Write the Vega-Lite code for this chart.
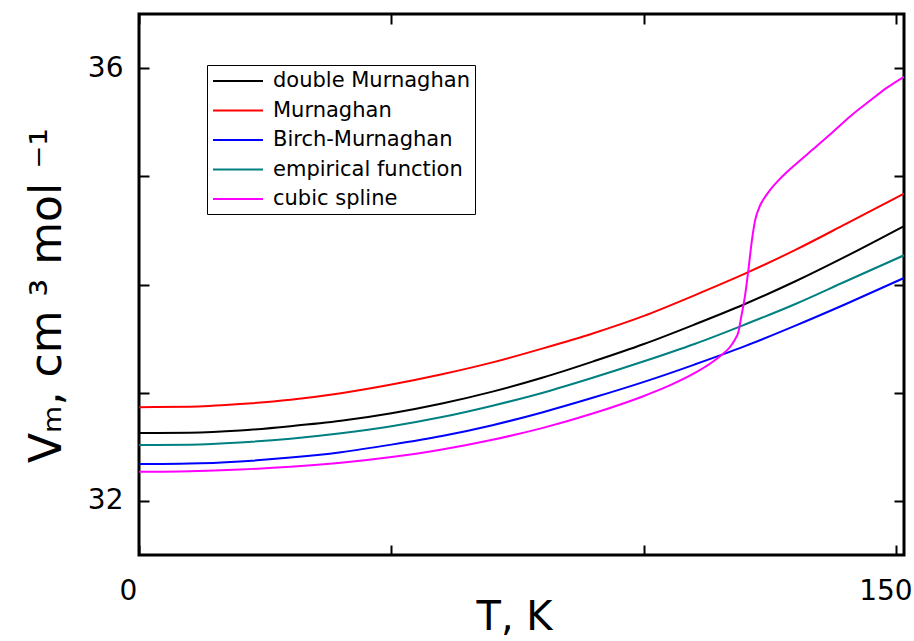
{
  "$schema": "https://vega.github.io/schema/vega-lite/v6.json",
  "width": 765,
  "height": 541,
  "autosize": {"type": "none"},
  "padding": {"left": 139, "top": 14, "right": 10, "bottom": 86},
  "background": "white",
  "config": {"view": {"stroke": "black", "strokeWidth": 3}, "font": "DejaVu Sans"},
  "data": {"values": [
    {"model": "double Murnaghan", "T": 0, "V": 32.627},
    {"model": "double Murnaghan", "T": 10, "V": 32.63},
    {"model": "double Murnaghan", "T": 20, "V": 32.65},
    {"model": "double Murnaghan", "T": 30, "V": 32.69},
    {"model": "double Murnaghan", "T": 40, "V": 32.74},
    {"model": "double Murnaghan", "T": 50, "V": 32.81},
    {"model": "double Murnaghan", "T": 60, "V": 32.90},
    {"model": "double Murnaghan", "T": 70, "V": 33.01},
    {"model": "double Murnaghan", "T": 80, "V": 33.14},
    {"model": "double Murnaghan", "T": 90, "V": 33.29},
    {"model": "double Murnaghan", "T": 100, "V": 33.45},
    {"model": "double Murnaghan", "T": 110, "V": 33.63},
    {"model": "double Murnaghan", "T": 120, "V": 33.82},
    {"model": "double Murnaghan", "T": 130, "V": 34.03},
    {"model": "double Murnaghan", "T": 140, "V": 34.26},
    {"model": "double Murnaghan", "T": 151.5, "V": 34.54},
    {"model": "Murnaghan", "T": 0, "V": 32.866},
    {"model": "Murnaghan", "T": 10, "V": 32.87},
    {"model": "Murnaghan", "T": 20, "V": 32.895},
    {"model": "Murnaghan", "T": 30, "V": 32.935},
    {"model": "Murnaghan", "T": 40, "V": 32.995},
    {"model": "Murnaghan", "T": 50, "V": 33.075},
    {"model": "Murnaghan", "T": 60, "V": 33.17},
    {"model": "Murnaghan", "T": 70, "V": 33.28},
    {"model": "Murnaghan", "T": 80, "V": 33.41},
    {"model": "Murnaghan", "T": 90, "V": 33.55},
    {"model": "Murnaghan", "T": 100, "V": 33.71},
    {"model": "Murnaghan", "T": 110, "V": 33.90},
    {"model": "Murnaghan", "T": 120, "V": 34.10},
    {"model": "Murnaghan", "T": 130, "V": 34.32},
    {"model": "Murnaghan", "T": 140, "V": 34.56},
    {"model": "Murnaghan", "T": 151.5, "V": 34.84},
    {"model": "Birch-Murnaghan", "T": 0, "V": 32.34},
    {"model": "Birch-Murnaghan", "T": 10, "V": 32.345},
    {"model": "Birch-Murnaghan", "T": 20, "V": 32.365},
    {"model": "Birch-Murnaghan", "T": 30, "V": 32.40},
    {"model": "Birch-Murnaghan", "T": 40, "V": 32.45},
    {"model": "Birch-Murnaghan", "T": 50, "V": 32.52},
    {"model": "Birch-Murnaghan", "T": 60, "V": 32.60},
    {"model": "Birch-Murnaghan", "T": 70, "V": 32.70},
    {"model": "Birch-Murnaghan", "T": 80, "V": 32.82},
    {"model": "Birch-Murnaghan", "T": 90, "V": 32.955},
    {"model": "Birch-Murnaghan", "T": 100, "V": 33.10},
    {"model": "Birch-Murnaghan", "T": 110, "V": 33.26},
    {"model": "Birch-Murnaghan", "T": 120, "V": 33.43},
    {"model": "Birch-Murnaghan", "T": 130, "V": 33.62},
    {"model": "Birch-Murnaghan", "T": 140, "V": 33.82},
    {"model": "Birch-Murnaghan", "T": 151.5, "V": 34.06},
    {"model": "empirical function", "T": 0, "V": 32.516},
    {"model": "empirical function", "T": 10, "V": 32.52},
    {"model": "empirical function", "T": 20, "V": 32.54},
    {"model": "empirical function", "T": 30, "V": 32.575},
    {"model": "empirical function", "T": 40, "V": 32.625},
    {"model": "empirical function", "T": 50, "V": 32.69},
    {"model": "empirical function", "T": 60, "V": 32.775},
    {"model": "empirical function", "T": 70, "V": 32.88},
    {"model": "empirical function", "T": 80, "V": 33.00},
    {"model": "empirical function", "T": 90, "V": 33.14},
    {"model": "empirical function", "T": 100, "V": 33.29},
    {"model": "empirical function", "T": 110, "V": 33.45},
    {"model": "empirical function", "T": 120, "V": 33.63},
    {"model": "empirical function", "T": 130, "V": 33.82},
    {"model": "empirical function", "T": 140, "V": 34.03},
    {"model": "empirical function", "T": 151.5, "V": 34.27},
    {"model": "cubic spline", "T": 0, "V": 32.27},
    {"model": "cubic spline", "T": 10, "V": 32.275},
    {"model": "cubic spline", "T": 20, "V": 32.29},
    {"model": "cubic spline", "T": 30, "V": 32.315},
    {"model": "cubic spline", "T": 40, "V": 32.352},
    {"model": "cubic spline", "T": 50, "V": 32.405},
    {"model": "cubic spline", "T": 60, "V": 32.475},
    {"model": "cubic spline", "T": 70, "V": 32.565},
    {"model": "cubic spline", "T": 80, "V": 32.675},
    {"model": "cubic spline", "T": 90, "V": 32.81},
    {"model": "cubic spline", "T": 100, "V": 32.97},
    {"model": "cubic spline", "T": 105, "V": 33.065},
    {"model": "cubic spline", "T": 110, "V": 33.18},
    {"model": "cubic spline", "T": 113, "V": 33.265},
    {"model": "cubic spline", "T": 115, "V": 33.335},
    {"model": "cubic spline", "T": 117, "V": 33.42},
    {"model": "cubic spline", "T": 118, "V": 33.49},
    {"model": "cubic spline", "T": 118.7, "V": 33.56},
    {"model": "cubic spline", "T": 119.3, "V": 33.71},
    {"model": "cubic spline", "T": 120, "V": 33.89},
    {"model": "cubic spline", "T": 120.7, "V": 34.14},
    {"model": "cubic spline", "T": 121.3, "V": 34.38},
    {"model": "cubic spline", "T": 122, "V": 34.59},
    {"model": "cubic spline", "T": 123, "V": 34.73},
    {"model": "cubic spline", "T": 124, "V": 34.81},
    {"model": "cubic spline", "T": 125, "V": 34.875},
    {"model": "cubic spline", "T": 126.5, "V": 34.955},
    {"model": "cubic spline", "T": 128, "V": 35.025},
    {"model": "cubic spline", "T": 130, "V": 35.11},
    {"model": "cubic spline", "T": 134, "V": 35.27},
    {"model": "cubic spline", "T": 137.4, "V": 35.41},
    {"model": "cubic spline", "T": 141, "V": 35.56},
    {"model": "cubic spline", "T": 144.8, "V": 35.70},
    {"model": "cubic spline", "T": 148, "V": 35.815},
    {"model": "cubic spline", "T": 151.5, "V": 35.92}
  ]},
  "layer": [
    {
      "mark": {"type": "line", "strokeWidth": 2, "interpolate": "monotone", "clip": true},
      "encoding": {
        "x": {
          "field": "T", "type": "quantitative",
          "scale": {"domain": [0, 151.5], "nice": false, "zero": false},
          "axis": {
            "orient": "bottom", "values": [0, 50, 100, 150],
            "labelExpr": "(datum.value == 0 || datum.value == 150) ? datum.label : ''",
            "domain": false, "grid": false,
            "tickSize": -10, "tickWidth": 2, "tickColor": "black",
            "labelPadding": 32, "labelOffset": -11,
            "labelFont": "DejaVu Sans", "labelFontSize": 28, "labelColor": "black",
            "labelFlush": false, "labelOverlap": false,
            "title": "T, K", "titleFont": "DejaVu Sans", "titleFontSize": 40,
            "titleFontWeight": "normal", "titleColor": "black",
            "titleX": 375, "titleY": 74, "titleBaseline": "alphabetic", "titleAlign": "center",
            "encode": {"ticks": {"update": {"y2": {"signal": "(datum.value == 0 || datum.value == 150) ? -10 : -6"}}}}
          }
        },
        "y": {
          "field": "V", "type": "quantitative",
          "scale": {"domain": [31.5, 36.5], "nice": false, "zero": false},
          "axis": {
            "orient": "left", "values": [32, 33, 34, 35, 36],
            "labelExpr": "(datum.value == 32 || datum.value == 36) ? datum.label : ''",
            "domain": false, "grid": false,
            "tickSize": -10, "tickWidth": 2, "tickColor": "black",
            "labelPadding": 26,
            "labelFont": "DejaVu Sans", "labelFontSize": 28, "labelColor": "black",
            "labelFlush": false, "labelOverlap": false,
            "title": "Vₘ, cm ³ mol ⁻¹", "titleFont": "DejaVu Sans", "titleFontSize": 44,
            "titleFontWeight": "normal", "titleColor": "black",
            "titleX": -79, "titleY": 281, "titleBaseline": "alphabetic", "titleAlign": "center",
            "encode": {"ticks": {"update": {"x2": {"signal": "(datum.value == 32 || datum.value == 36) ? 10 : 6"}}}}
          }
        },
        "color": {
          "field": "model", "type": "nominal",
          "scale": {
            "domain": ["double Murnaghan", "Murnaghan", "Birch-Murnaghan", "empirical function", "cubic spline"],
            "range": ["#000000", "#ff0000", "#0000ff", "#008080", "#ff00ff"]
          },
          "legend": {
            "orient": "none", "legendX": 68, "legendY": 51, "title": null,
            "strokeColor": "black", "fillColor": "white", "padding": 5,
            "symbolType": "M-1,0H4", "symbolSize": 400, "symbolStrokeWidth": 2,
            "labelFont": "DejaVu Sans", "labelFontSize": 21, "labelColor": "black",
            "labelOffset": 39, "rowPadding": 8.5, "labelLimit": 400
          }
        }
      }
    },
    {
      "mark": {"type": "point", "opacity": 0, "size": 1},
      "encoding": {
        "x": {
          "field": "T", "type": "quantitative",
          "scale": {"domain": [0, 151.5], "nice": false, "zero": false},
          "axis": {
            "orient": "top", "values": [0, 50, 100, 150], "labels": false, "title": null,
            "domain": false, "grid": false,
            "tickSize": -10, "tickWidth": 2, "tickColor": "black",
            "encode": {"ticks": {"update": {"y2": {"signal": "(datum.value == 0 || datum.value == 150) ? 10 : 6"}}}}
          }
        },
        "y": {
          "field": "V", "type": "quantitative",
          "scale": {"domain": [31.5, 36.5], "nice": false, "zero": false},
          "axis": {
            "orient": "right", "values": [32, 33, 34, 35, 36], "labels": false, "title": null,
            "domain": false, "grid": false,
            "tickSize": -10, "tickWidth": 2, "tickColor": "black",
            "encode": {"ticks": {"update": {"x2": {"signal": "(datum.value == 32 || datum.value == 36) ? -10 : -6"}}}}
          }
        }
      }
    }
  ],
  "resolve": {"axis": {"x": "independent", "y": "independent"}}
}
